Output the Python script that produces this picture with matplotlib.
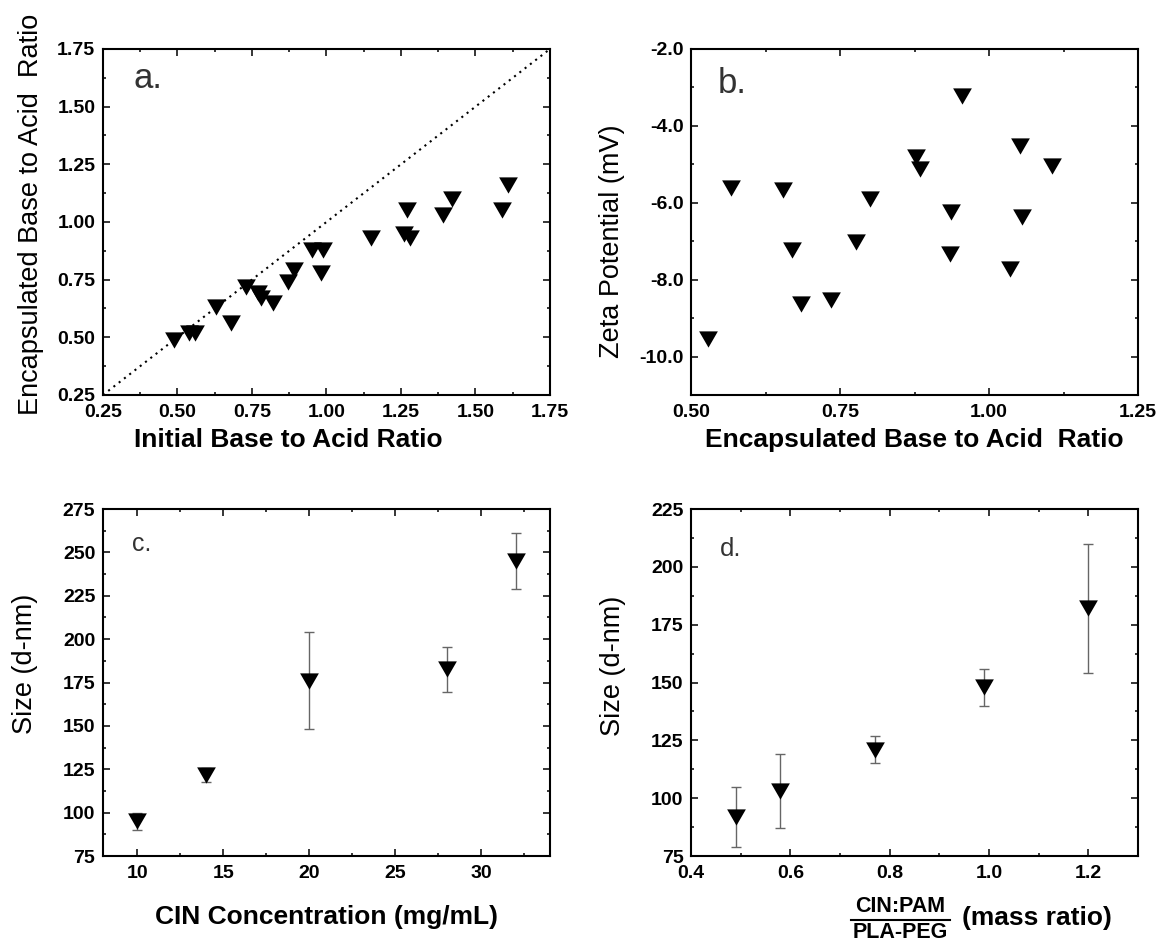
import matplotlib
matplotlib.use("Agg")
import matplotlib.pyplot as plt
from matplotlib.ticker import MultipleLocator, FormatStrFormatter
from matplotlib.lines import Line2D

plt.rcParams['font.family'] = ['Liberation Sans', 'DejaVu Sans']

# ---------------- data ----------------
# panel a
a_initial = [0.49, 0.54, 0.56, 0.63, 0.68, 0.73, 0.77, 0.78, 0.82, 0.87, 0.89,
             0.95, 0.99, 0.98, 1.15, 1.26, 1.28, 1.27, 1.39, 1.42, 1.59, 1.61]
a_encap = [0.49, 0.52, 0.52, 0.63, 0.56, 0.72, 0.69, 0.67, 0.65, 0.74, 0.79,
           0.88, 0.88, 0.78, 0.93, 0.95, 0.93, 1.05, 1.03, 1.10, 1.05, 1.16]
a_identity = [0.25, 1.75]

# panel b
b_encap = [0.528, 0.567, 0.654, 0.669, 0.685, 0.735, 0.777, 0.800, 0.878, 0.884,
           0.955, 0.936, 0.934, 1.052, 1.055, 1.035, 1.105]
b_zeta = [-9.55, -5.62, -5.68, -7.22, -8.63, -8.54, -7.03, -5.90, -4.80, -5.11,
          -3.23, -6.23, -7.32, -4.52, -6.37, -7.72, -5.04]

# panel c
c_conc = [10, 14, 20, 28, 32]
c_size = [95, 121.5, 176, 182.5, 245]
c_err = [5, 4, 28, 13, 16]

# panel d
d_ratio = [0.49, 0.58, 0.77, 0.99, 1.20]
d_size = [92, 103, 121, 148, 182]
d_err = [13, 16, 6, 8, 28]

# ---------------- style ----------------
TRI = [(-1, 0.866), (1, 0.866), (0, -0.866)]
MS = 13.5
TICK_FS = 14
XLAB_FS = 19
YLAB_FS = 19.5
ERR_COLOR = '#666666'

fig = plt.figure(figsize=(11.62, 9.44), dpi=100)
fig.patch.set_facecolor('white')

W, H1, H2 = 0.3847, 0.3665, 0.3676
ax_a = fig.add_axes([0.0886, 0.5816, W, H1])
ax_b = fig.add_axes([0.5947, 0.5816, W, H1])
ax_c = fig.add_axes([0.0886, 0.0932, W, H2])
ax_d = fig.add_axes([0.5947, 0.0932, W, H2])


def style(ax, xlim, ylim, xmaj, ymaj, xfmt, yfmt):
    ax.set_xlim(*xlim)
    ax.set_ylim(*ylim)
    ax.xaxis.set_major_locator(MultipleLocator(xmaj))
    ax.xaxis.set_minor_locator(MultipleLocator(xmaj / 2))
    ax.yaxis.set_major_locator(MultipleLocator(ymaj))
    ax.yaxis.set_minor_locator(MultipleLocator(ymaj / 2))
    ax.xaxis.set_major_formatter(FormatStrFormatter(xfmt))
    ax.yaxis.set_major_formatter(FormatStrFormatter(yfmt))
    ax.tick_params(which='both', direction='in', top=True, right=True,
                   width=1.1, color='black')
    ax.tick_params(which='major', length=5)
    ax.tick_params(which='minor', length=2.5)
    ax.tick_params(axis='x', which='major', pad=6.5)
    ax.tick_params(axis='y', which='major', pad=5.5)
    for lab in ax.get_xticklabels() + ax.get_yticklabels():
        lab.set_fontsize(TICK_FS)
        lab.set_fontweight('bold')
    for sp in ax.spines.values():
        sp.set_linewidth(1.5)


def markers(ax, x, y):
    ax.plot(x, y, linestyle='none', marker=TRI, markersize=MS,
            color='black', markeredgewidth=0, zorder=3, clip_on=False)


# ---------------- panel a ----------------
style(ax_a, (0.25, 1.75), (0.25, 1.75), 0.25, 0.25, '%.2f', '%.2f')
ax_a.plot(a_identity, a_identity, color='black', lw=1.5,
          linestyle=(0, (1, 2.2)), zorder=2)
markers(ax_a, a_initial, a_encap)
ax_a.set_xlabel('Initial Base to Acid Ratio', fontsize=XLAB_FS,
                fontweight='bold', va='center')
ax_a.xaxis.set_label_coords(0.415, -0.13)
ax_a.set_ylabel('Encapsulated Base to Acid  Ratio', fontsize=YLAB_FS, va='center')
ax_a.yaxis.set_label_coords(-0.161, 0.523)
ax_a.text(0.068, 0.887, 'a.', transform=ax_a.transAxes, fontsize=25,
          color='#333333', ha='left', va='baseline')

# ---------------- panel b ----------------
style(ax_b, (0.5, 1.25), (-11, -2), 0.25, 2, '%.2f', '%.1f')
markers(ax_b, b_encap, b_zeta)
ax_b.set_xlabel('Encapsulated Base to Acid  Ratio', fontsize=XLAB_FS,
                fontweight='bold', va='center')
ax_b.xaxis.set_label_coords(0.5, -0.13)
ax_b.set_ylabel('Zeta Potential (mV)', fontsize=YLAB_FS, va='center')
ax_b.yaxis.set_label_coords(-0.177, 0.445)
ax_b.text(0.06, 0.874, 'b.', transform=ax_b.transAxes, fontsize=25,
          color='#333333', ha='left', va='baseline')

# ---------------- panel c ----------------
style(ax_c, (8, 34), (75, 275), 5, 25, '%d', '%d')
ax_c.errorbar(c_conc, c_size, yerr=c_err, fmt='none', ecolor=ERR_COLOR,
              elinewidth=1.0, capsize=3.5, capthick=1.0, zorder=2)
markers(ax_c, c_conc, c_size)
ax_c.set_xlabel('CIN Concentration (mg/mL)', fontsize=XLAB_FS,
                fontweight='bold', va='center')
ax_c.xaxis.set_label_coords(0.5, -0.176)
ax_c.set_ylabel('Size (d-nm)', fontsize=YLAB_FS, va='center')
ax_c.yaxis.set_label_coords(-0.174, 0.553)
ax_c.text(0.066, 0.879, 'c.', transform=ax_c.transAxes, fontsize=18,
          color='#333333', ha='left', va='baseline')

# ---------------- panel d ----------------
style(ax_d, (0.4, 1.3), (75, 225), 0.2, 25, '%.1f', '%d')
ax_d.errorbar(d_ratio, d_size, yerr=d_err, fmt='none', ecolor=ERR_COLOR,
              elinewidth=1.0, capsize=3.5, capthick=1.0, zorder=2)
markers(ax_d, d_ratio, d_size)
ax_d.set_ylabel('Size (d-nm)', fontsize=YLAB_FS, va='center')
ax_d.yaxis.set_label_coords(-0.174, 0.548)
ax_d.text(0.065, 0.866, 'd.', transform=ax_d.transAxes, fontsize=18.5,
          color='#333333', ha='left', va='baseline')
# fraction-style x label
ax_d.text(0.4676, -0.1455, 'CIN:PAM', transform=ax_d.transAxes, fontsize=15.5,
          fontweight='bold', ha='center', va='center')
ax_d.text(0.4676, -0.220, 'PLA-PEG', transform=ax_d.transAxes, fontsize=15.5,
          fontweight='bold', ha='center', va='center')
ax_d.add_line(Line2D([0.358, 0.579], [-0.184, -0.184], transform=ax_d.transAxes,
                     color='black', lw=1.5, clip_on=False))
ax_d.text(0.606, -0.179, '(mass ratio)', transform=ax_d.transAxes,
          fontsize=XLAB_FS, fontweight='bold', ha='left', va='center')

fig.savefig('out.png', dpi=100, facecolor='white')
